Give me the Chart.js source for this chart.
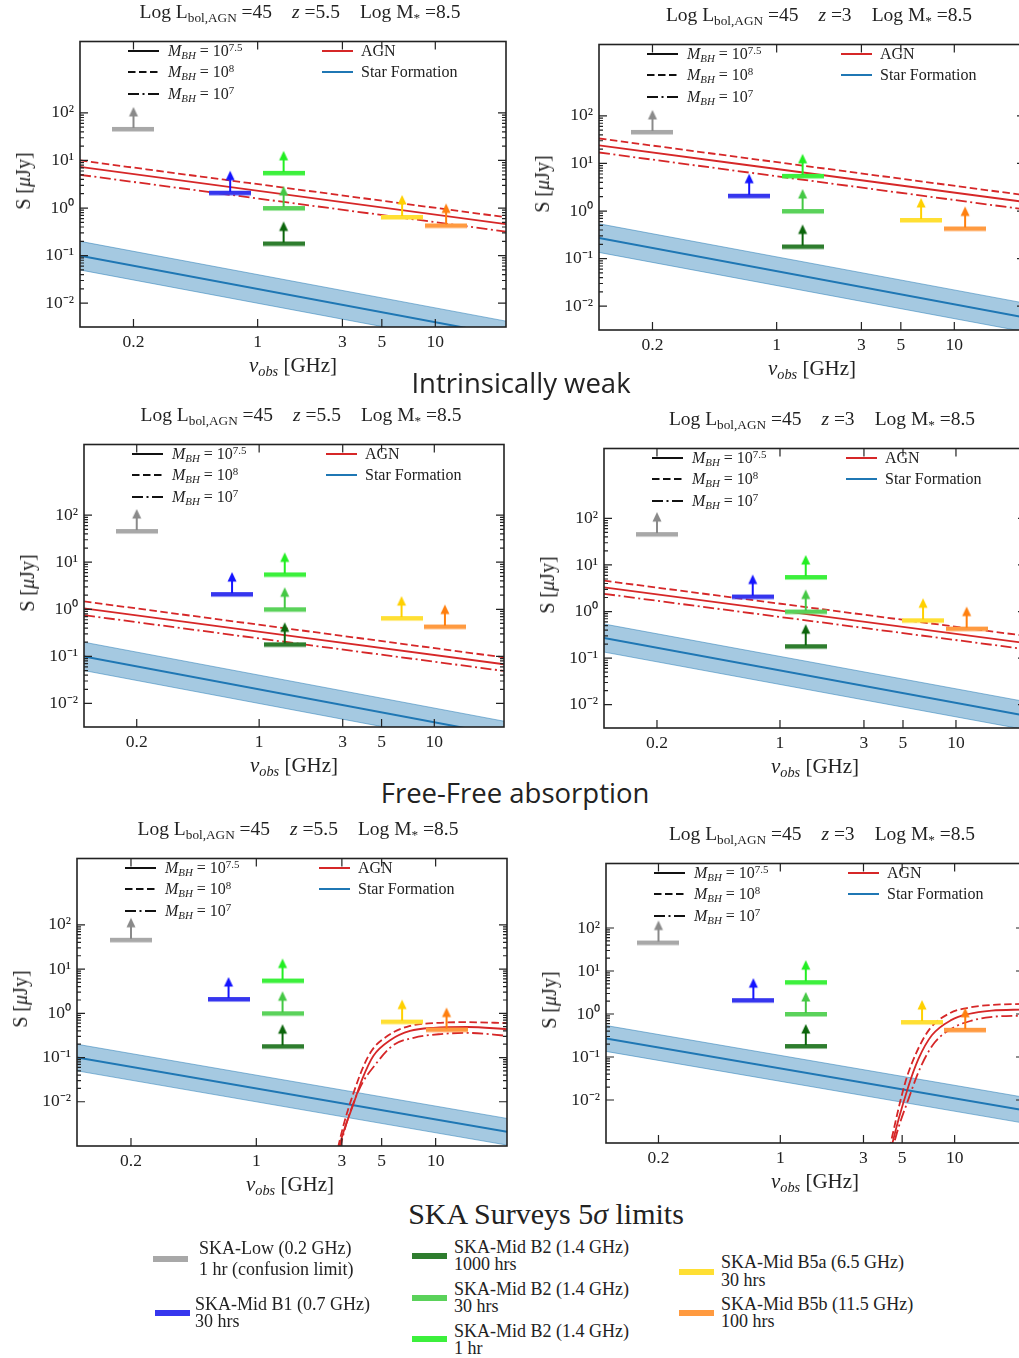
<!DOCTYPE html>
<html lang="en">
<head>
<meta charset="UTF-8">
<title>SKA detectability of AGN vs star formation</title>
<script src="https://cdn.jsdelivr.net/npm/chart.js@4"></script>
<style>
  html, body { margin: 0; padding: 0; overflow: hidden; background: #fff; }
  body { width: 1019px; height: 1358px; position: relative; font-family: "Liberation Serif", serif; color: #222; }
  canvas { position: absolute; }
  .t { position: absolute; white-space: nowrap; line-height: 1; }
  .ptitle { font-size: 19.5px; transform: translate(-50%, -50%); }
  .ylab { font-size: 20px; transform: translate(-50%, -50%) rotate(-90deg); }
  .xlab { font-size: 21px; transform: translate(-50%, -50%); }
  .sec { font-family: "Open Sans", sans-serif; font-size: 27.5px; transform: translate(-50%, -50%); }
  .leg { font-size: 16px; transform: translateY(-50%); }
  .ska { font-size: 18px; transform: translateY(-50%) scaleY(1.08); }
  .sub { font-size: 0.68em; position: relative; top: 0.3em; }
  .sup { font-size: 0.68em; position: relative; top: -0.45em; }
  .sw { position: absolute; height: 6px; }
</style>
</head>
<body>
<script>
// axes
const xMin = 0.1, xMax = 25;
const xTicks = [0.2, 1, 3, 5, 10];
const xTickLabels = ['0.2', '1', '3', '5', '10'];
const yTicks = [0.01, 0.1, 1, 10, 100];
const yTickLabels = ['10⁻²', '10⁻¹', '10⁰', '10¹', '10²'];

// SKA survey 5 sigma limits (uJy)
const skaFreq = [0.2, 0.7, 1.4, 1.4, 1.4, 6.5, 11.5];
const skaLimit = [46, 2.1, 5.5, 1.0, 0.18, 0.65, 0.43];
const skaBarColors = ['#a8a8a8', '#3636ee', '#3cf03c', '#5ad25a', '#2e7d2e', '#ffdf33', '#ff9a40'];
const skaArrowColors = ['#8a8a8a', '#1414ff', '#22ee22', '#44c844', '#0b650b', '#ffd000', '#ff7f0e'];
const skaLine1 = ['SKA-Low (0.2 GHz)', 'SKA-Mid B1 (0.7 GHz)', 'SKA-Mid B2 (1.4 GHz)', 'SKA-Mid B2 (1.4 GHz)',
                  'SKA-Mid B2 (1.4 GHz)', 'SKA-Mid B5a (6.5 GHz)', 'SKA-Mid B5b (11.5 GHz)'];
const skaLine2 = ['1 hr (confusion limit)', '30 hrs', '1 hr', '30 hrs', '1000 hrs', '30 hrs', '100 hrs'];

// power laws: values at 0.1 and 25 GHz
const lineFreq = [0.1, 25];
const agnZ55Solid = [7.3, 0.46];
const agnZ55Dashed = [10, 0.64];
const agnZ55DashDot = [5.0, 0.32];
const agnZ3Solid = [24, 1.55];
const agnZ3Dashed = [33.5, 2.15];
const agnZ3DashDot = [17, 1.08];
const weakZ55Solid = [1.05, 0.068];
const weakZ55Dashed = [1.47, 0.095];
const weakZ55DashDot = [0.75, 0.049];
const weakZ3Solid = [3.3, 0.21];
const weakZ3Dashed = [4.6, 0.30];
const weakZ3DashDot = [2.4, 0.155];
const sfZ55 = [0.1, 0.0021];
const sfZ55Hi = [0.2, 0.0042];
const sfZ55Lo = [0.05, 0.00105];
const sfZ3 = [0.27, 0.0058];
const sfZ3Hi = [0.54, 0.0116];
const sfZ3Lo = [0.135, 0.0029];

// free-free absorbed AGN spectra
const ffZ55SolidFreq = [2.75, 2.91, 3.48, 3.9, 4.5, 5.6, 7.2, 9.7, 15, 25];
const ffZ55Solid = [0.0003, 0.001, 0.0089, 0.033, 0.11, 0.25, 0.4, 0.47, 0.49, 0.44];
const ffZ55DashedFreq = [2.72, 2.87, 3.66, 4.33, 5.4, 7.2, 9.7, 15, 25];
const ffZ55Dashed = [0.0003, 0.001, 0.028, 0.13, 0.31, 0.52, 0.6, 0.63, 0.6];
const ffZ55DashDotFreq = [2.8, 2.95, 3.7, 4.73, 5.8, 7.55, 10.7, 15, 25];
const ffZ55DashDot = [0.0003, 0.001, 0.017, 0.079, 0.19, 0.28, 0.34, 0.36, 0.31];
const ffZ3SolidFreq = [4.2, 4.4, 5.37, 6.2, 7.4, 9.6, 12, 16.3, 25];
const ffZ3Solid = [0.0004, 0.001, 0.018, 0.09, 0.32, 0.73, 1.0, 1.2, 1.27];
const ffZ3DashedFreq = [4.1, 4.3, 5.2, 6.0, 7.2, 9.4, 12, 16, 25];
const ffZ3Dashed = [0.0004, 0.001, 0.025, 0.12, 0.45, 1.05, 1.4, 1.62, 1.72];
const ffZ3DashDotFreq = [4.3, 4.5, 5.5, 6.4, 7.7, 10, 12.5, 16, 25];
const ffZ3DashDot = [0.0004, 0.001, 0.012, 0.06, 0.22, 0.5, 0.7, 0.85, 0.92];

const RED = '#d62728', BLUE = '#1f77b4';
const DASH = [7.5, 3.5], DASHDOT = [11, 3.5, 2, 3.5];

function pts(xs, ys) {
  return xs.map((x, i) => ({ x: x, y: ys[i] }));
}

// bar + upward arrow used as the point image for each limit
function limitMarker(bar, arrow) {
  const c = document.createElement('canvas');
  c.width = 42; c.height = 52;
  const g = c.getContext('2d');
  g.fillStyle = bar;
  g.fillRect(0, 24, 42, 4.5);
  g.strokeStyle = arrow; g.lineWidth = 2;
  g.beginPath(); g.moveTo(21, 25); g.lineTo(21, 12); g.stroke();
  g.fillStyle = arrow;
  g.beginPath(); g.moveTo(21, 4); g.lineTo(16.5, 13.5); g.lineTo(25.5, 13.5); g.closePath(); g.fill();
  return c;
}
const markers = skaFreq.map((f, i) => limitMarker(skaBarColors[i], skaArrowColors[i]));

// frame and inward ticks, matplotlib style
const frameTicks = {
  id: 'frameTicks',
  afterDatasetsDraw(chart) {
    const { ctx, chartArea: a, scales: { x, y } } = chart;
    ctx.save();
    ctx.strokeStyle = '#222';
    ctx.lineWidth = 1.6;
    ctx.strokeRect(a.left, a.top, a.right - a.left, a.bottom - a.top);
    ctx.lineWidth = 1.2;
    ctx.beginPath();
    xTicks.forEach(v => {
      const px = x.getPixelForValue(v);
      ctx.moveTo(px, a.bottom); ctx.lineTo(px, a.bottom - 8);
      ctx.moveTo(px, a.top); ctx.lineTo(px, a.top + 8);
    });
    yTicks.forEach(v => {
      const py = y.getPixelForValue(v);
      ctx.moveTo(a.left, py); ctx.lineTo(a.left + 8, py);
      ctx.moveTo(a.right, py); ctx.lineTo(a.right - 8, py);
    });
    [0.01, 0.1, 1, 10].forEach(d => {
      for (let m = 2; m <= 9; m++) {
        const py = y.getPixelForValue(m * d);
        ctx.moveTo(a.left, py); ctx.lineTo(a.left + 4, py);
        ctx.moveTo(a.right, py); ctx.lineTo(a.right - 4, py);
      }
    });
    ctx.stroke();
    ctx.restore();
  }
};

function redLine(data, dash) {
  return { data: data, borderColor: RED, borderWidth: 1.8, borderDash: dash || [], pointRadius: 0,
           cubicInterpolationMode: 'monotone', fill: false };
}

function sfSets(mid, hi, lo) {
  return [
    { data: pts(lineFreq, mid), borderColor: BLUE, borderWidth: 2, pointRadius: 0, fill: false },
    { data: pts(lineFreq, hi), borderColor: 'rgba(31,119,180,0.5)', borderWidth: 1, pointRadius: 0,
      fill: '+1', backgroundColor: 'rgba(31,119,180,0.4)' },
    { data: pts(lineFreq, lo), borderColor: 'rgba(31,119,180,0.5)', borderWidth: 1, pointRadius: 0, fill: false }
  ];
}

function addText(cls, html, x, y) {
  const d = document.createElement('div');
  d.className = 't ' + cls;
  d.innerHTML = html;
  d.style.left = x + 'px';
  d.style.top = y + 'px';
  document.body.appendChild(d);
  return d;
}

function sample(x, y, color, dash) {
  const s = document.createElementNS('http://www.w3.org/2000/svg', 'svg');
  s.setAttribute('width', 31); s.setAttribute('height', 6);
  s.style.position = 'absolute';
  s.style.left = x + 'px'; s.style.top = (y - 3) + 'px';
  s.innerHTML = '<line x1="0" y1="3" x2="31" y2="3" stroke="' + color + '" stroke-width="2"' +
                (dash ? ' stroke-dasharray="' + dash + '"' : '') + '/>';
  document.body.appendChild(s);
}

function makePanel(r, yMin, z, agnSets, sf) {
  const padL = 80, padT = 10, padR = 10, padB = 35;
  const w = r.r - r.l + padL + padR, h = r.b - r.t + padT + padB;
  const canvas = document.createElement('canvas');
  canvas.width = w; canvas.height = h;
  canvas.style.left = (r.l - padL) + 'px';
  canvas.style.top = (r.t - padT) + 'px';
  canvas.style.width = w + 'px';
  canvas.style.height = h + 'px';
  document.body.appendChild(canvas);

  const limits = {
    data: pts(skaFreq, skaLimit), showLine: false, pointStyle: markers, pointRadius: 3, borderWidth: 0
  };
  const tickFont = { family: 'Liberation Serif', size: 17.5 };

  new Chart(canvas, {
    type: 'line',
    data: { datasets: [limits].concat(agnSets, sf) },
    options: {
      responsive: false, animation: false, devicePixelRatio: 1, events: [],
      layout: { padding: { left: 0, top: padT, right: padR, bottom: 0 } },
      plugins: { legend: { display: false }, tooltip: { enabled: false } },
      scales: {
        x: {
          type: 'logarithmic', min: xMin, max: xMax,
          grid: { display: false, drawTicks: false }, border: { display: false },
          afterFit: s => { s.height = padB; },
          afterBuildTicks: s => { s.ticks = xTicks.map(v => ({ value: v })); },
          ticks: { autoSkip: false, maxRotation: 0, padding: 5, color: '#222', font: tickFont,
                   callback: (v, i) => xTickLabels[i] }
        },
        y: {
          type: 'logarithmic', min: yMin, max: Math.pow(10, 3.5),
          grid: { display: false, drawTicks: false }, border: { display: false },
          afterFit: s => { s.width = padL; },
          afterBuildTicks: s => { s.ticks = yTicks.map(v => ({ value: v })); },
          ticks: { autoSkip: false, padding: 6, color: '#222', font: tickFont,
                   callback: (v, i) => yTickLabels[i] }
        }
      }
    },
    plugins: [frameTicks]
  });

  // titles and axis labels
  const cx = (r.l + r.r) / 2;
  addText('ptitle', 'Log L<span class="sub">bol,AGN</span> =45<span style="margin-left:20px"></span>' +
          '<i>z</i> =' + z + '<span style="margin-left:20px"></span>Log M<span class="sub">*</span> =8.5',
          Math.min(cx + 7, r.l + 221), r.t - 23);
  addText('ylab', 'S [<i>μ</i>Jy]', r.l - 57, (r.t + r.b) / 2);
  addText('xlab', '<i>ν<span class="sub">obs</span></i> [GHz]', Math.min(cx, r.l + 213), r.b + 38);

  // legend inside the axes
  const lx = r.l + 48, ly = r.t + 16;
  const mbh = ['7.5', '8', '7'];
  const dashes = [null, '7.5,3.5', '11,3.5,2,3.5'];
  [0, 21, 43].forEach((dy, i) => {
    sample(lx, ly + dy, '#111', dashes[i]);
    addText('leg', '<i>M<span class="sub">BH</span></i> = 10<span class="sup">' + mbh[i] + '</span>',
            lx + 40, ly + dy);
  });
  sample(r.l + 242, ly, RED, null);
  addText('leg', 'AGN', r.l + 281, ly);
  sample(r.l + 242, ly + 21, BLUE, null);
  addText('leg', 'Star Formation', r.l + 281, ly + 21);
}

function agnLines(solid, dashed, dashdot) {
  return [redLine(pts(lineFreq, solid)), redLine(pts(lineFreq, dashed), DASH), redLine(pts(lineFreq, dashdot), DASHDOT)];
}

const yLow = Math.pow(10, -2.5);
makePanel({ l: 80, t: 35, r: 506, b: 327 }, yLow, '5.5',
          agnLines(agnZ55Solid, agnZ55Dashed, agnZ55DashDot), sfSets(sfZ55, sfZ55Hi, sfZ55Lo));
makePanel({ l: 599, t: 38, r: 1025, b: 330 }, yLow, '3',
          agnLines(agnZ3Solid, agnZ3Dashed, agnZ3DashDot), sfSets(sfZ3, sfZ3Hi, sfZ3Lo));
makePanel({ l: 84, t: 438, r: 504, b: 727 }, yLow, '5.5',
          agnLines(weakZ55Solid, weakZ55Dashed, weakZ55DashDot), sfSets(sfZ55, sfZ55Hi, sfZ55Lo));
makePanel({ l: 604, t: 442, r: 1026, b: 728 }, yLow, '3',
          agnLines(weakZ3Solid, weakZ3Dashed, weakZ3DashDot), sfSets(sfZ3, sfZ3Hi, sfZ3Lo));
makePanel({ l: 77, t: 852, r: 507, b: 1146 }, 0.001, '5.5',
          [redLine(pts(ffZ55SolidFreq, ffZ55Solid)), redLine(pts(ffZ55DashedFreq, ffZ55Dashed), DASH),
           redLine(pts(ffZ55DashDotFreq, ffZ55DashDot), DASHDOT)], sfSets(sfZ55, sfZ55Hi, sfZ55Lo));
makePanel({ l: 606, t: 857, r: 1024, b: 1143 }, 0.001, '3',
          [redLine(pts(ffZ3SolidFreq, ffZ3Solid)), redLine(pts(ffZ3DashedFreq, ffZ3Dashed), DASH),
           redLine(pts(ffZ3DashDotFreq, ffZ3DashDot), DASHDOT)], sfSets(sfZ3, sfZ3Hi, sfZ3Lo));

// section headings
addText('sec', 'Intrinsically weak', 521, 383);
addText('sec', 'Free-Free absorption', 515, 793);
addText('ska', 'SKA Surveys 5<i>σ</i> limits', 546, 1214).style.cssText += 'font-size:30px;transform:translate(-50%,-50%);';

// survey legend: swatch left, swatch y, text left, first line y, second line y
const legPos = [
  [153, 1259, 199, 1248, 1269],
  [155, 1313, 195, 1304, 1321],
  [412, 1339, 454, 1331, 1348],
  [412, 1298, 454, 1289, 1306],
  [412, 1256, 454, 1247, 1264],
  [679, 1272, 721, 1262, 1280],
  [679, 1313, 721, 1304, 1321]
];
legPos.forEach((p, i) => {
  const sw = document.createElement('div');
  sw.className = 'sw';
  sw.style.cssText += 'left:' + p[0] + 'px;top:' + (p[1] - 3) + 'px;width:35px;background:' + skaBarColors[i] + ';';
  document.body.appendChild(sw);
  addText('ska', skaLine1[i], p[2], p[3]);
  addText('ska', skaLine2[i], p[2], p[4]);
});
</script>
</body>
</html>
